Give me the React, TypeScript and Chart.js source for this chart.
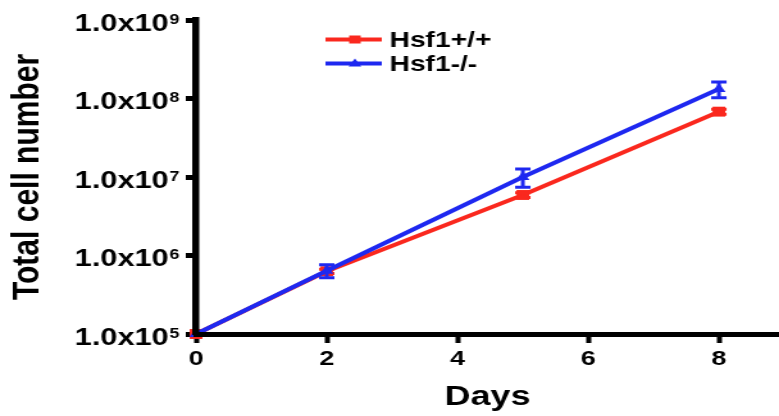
import React, { useEffect, useRef } from 'react';
import { Chart, registerables } from 'chart.js';

Chart.register(...registerables);

// ---- data ----
const days = [0, 2, 5, 8];
const wtCells = [1e5, 6.3e5, 5.9e6, 6.8e7];
const wtErr = [0, 4e4, 4e5, 5e6];
const koCells = [1e5, 6.4e5, 1.0e7, 1.32e8];
const koErr = [0, 1.2e5, 2.6e6, 3.0e7];
const seriesLabels = ['Hsf1+/+', 'Hsf1-/-'];
const xTicks = [0, 2, 4, 6, 8];
const yTicks = [1e5, 1e6, 1e7, 1e8, 1e9];
const xTitle = 'Days';
const yTitle = 'Total cell number';

const RED = 'rgb(250,40,30)';
const BLUE = 'rgb(30,40,240)';
const FONT = '"Liberation Sans", Arial, Helvetica, sans-serif';

// internal canvas is narrower and stretched horizontally to 779 px
const CW = 608;
const CH = 416;

const errorBarPlugin = {
  id: 'errorBars',
  afterDatasetDraw(chart: any, args: any) {
    const ds = chart.data.datasets[args.index];
    const errs: number[] = ds.errors || [];
    const y = chart.scales.y;
    const ctx = chart.ctx;
    ctx.save();
    ctx.strokeStyle = ds.borderColor;
    ctx.lineWidth = 3;
    args.meta.data.forEach((pt: any, i: number) => {
      const e = errs[i];
      if (!e) return;
      const v = ds.data[i].y;
      const yt = y.getPixelForValue(v + e);
      const yb = y.getPixelForValue(v - e);
      const x = pt.x;
      ctx.beginPath();
      ctx.moveTo(x, yt);
      ctx.lineTo(x, yb);
      ctx.moveTo(x - 6, yt);
      ctx.lineTo(x + 6, yt);
      ctx.moveTo(x - 6, yb);
      ctx.lineTo(x + 6, yb);
      ctx.stroke();
    });
    ctx.restore();
  },
};

const yLabelPlugin = {
  id: 'yLabels',
  afterDraw(chart: any) {
    const s = chart.scales.y;
    const ctx = chart.ctx;
    ctx.save();
    ctx.fillStyle = '#000';
    ctx.textAlign = 'right';
    ctx.textBaseline = 'alphabetic';
    const right = s.right - 13;
    s.ticks.forEach((t: any) => {
      const py = s.getPixelForValue(t.value);
      const e = Math.round(Math.log10(t.value));
      const mant = (t.value / Math.pow(10, e)).toFixed(1) + 'x10';
      const exp = String(e);
      ctx.font = `bold 14px ${FONT}`;
      ctx.fillText(exp, right, py + 3.5);
      const ew = ctx.measureText(exp).width;
      ctx.font = `bold 24px ${FONT}`;
      ctx.fillText(mant, right - ew - 0.5, py + 10.5);
    });
    ctx.restore();
  },
};

const legendPlugin = {
  id: 'customLegend',
  afterDraw(chart: any) {
    const ctx = chart.ctx;
    const rows = [39.5, 63.5];
    const x0 = 254;
    const x1 = 298;
    const mx = 277;
    const tx = 304;
    ctx.save();
    chart.data.datasets.forEach((ds: any, i: number) => {
      const ry = rows[i];
      ctx.strokeStyle = ds.borderColor;
      ctx.fillStyle = ds.borderColor;
      ctx.lineWidth = 4;
      ctx.beginPath();
      ctx.moveTo(x0, ry);
      ctx.lineTo(x1, ry);
      ctx.stroke();
      if (ds.pointStyle === 'rect') {
        ctx.fillRect(mx - 4.5, ry - 4, 9, 8);
      } else {
        ctx.beginPath();
        ctx.moveTo(mx, ry - 5);
        ctx.lineTo(mx + 5, ry + 3);
        ctx.lineTo(mx - 5, ry + 3);
        ctx.closePath();
        ctx.fill();
      }
      ctx.fillStyle = '#000';
      ctx.font = `bold 22px ${FONT}`;
      ctx.textAlign = 'left';
      ctx.textBaseline = 'middle';
      ctx.fillText(ds.label, tx, ry + 1);
    });
    ctx.restore();
  },
};

export default function App() {
  const ref = useRef<HTMLCanvasElement | null>(null);

  useEffect(() => {
    if (!ref.current) return;
    const chart = new Chart(ref.current, {
      type: 'line',
      data: {
        datasets: [
          {
            label: seriesLabels[0],
            data: days.map((d, i) => ({ x: d, y: wtCells[i] })),
            borderColor: RED,
            backgroundColor: RED,
            pointBackgroundColor: RED,
            pointBorderColor: RED,
            borderWidth: 4,
            pointStyle: 'rect',
            pointRadius: 7,
            pointBorderWidth: 0,
            tension: 0,
            clip: false,
            order: 1,
            errors: wtErr,
          } as any,
          {
            label: seriesLabels[1],
            data: days.map((d, i) => ({ x: d, y: koCells[i] })),
            borderColor: BLUE,
            backgroundColor: BLUE,
            pointBackgroundColor: BLUE,
            pointBorderColor: BLUE,
            borderWidth: 4,
            pointStyle: 'triangle',
            pointRadius: 6,
            pointBorderWidth: 0,
            tension: 0,
            clip: false,
            order: 0,
            errors: koErr,
          } as any,
        ],
      },
      options: {
        responsive: false,
        animation: false,
        devicePixelRatio: 1,
        layout: { autoPadding: false, padding: { top: 20, right: 0, bottom: 0, left: 0 } },
        plugins: {
          legend: { display: false },
          tooltip: { enabled: false },
        },
        scales: {
          x: {
            type: 'linear',
            min: 0,
            max: 8.92,
            afterBuildTicks: (s: any) => {
              s.ticks = xTicks.map((v) => ({ value: v }));
            },
            afterFit: (s: any) => {
              s.height = 82;
            },
            grid: {
              drawOnChartArea: false,
              drawTicks: true,
              tickLength: 9,
              tickWidth: 4,
              tickColor: '#000',
            },
            border: { display: true, color: '#000', width: 5, z: 1 },
            ticks: {
              color: '#000',
              font: { family: FONT, size: 21, weight: 'bold' },
              padding: 4,
              maxRotation: 0,
              autoSkip: false,
            },
            title: {
              display: true,
              text: xTitle,
              color: '#000',
              font: { family: FONT, size: 28, weight: 'bold', lineHeight: 1.2 },
              padding: { top: 0, bottom: 2 },
            },
          },
          y: {
            type: 'logarithmic',
            min: 1e5,
            max: 1e9,
            afterBuildTicks: (s: any) => {
              s.ticks = yTicks.map((v) => ({ value: v }));
            },
            afterFit: (s: any) => {
              s.width = 153;
            },
            grid: {
              drawOnChartArea: false,
              drawTicks: true,
              tickLength: 8,
              tickWidth: 5,
              tickColor: '#000',
            },
            border: { display: true, color: '#000', width: 5.5, z: 1 },
            ticks: { display: false },
            title: {
              display: true,
              text: yTitle,
              color: '#000',
              font: { family: FONT, size: 30, weight: 'bold', lineHeight: 1.2 },
              padding: { top: 4, bottom: 0 },
            },
          },
        },
      } as any,
      plugins: [errorBarPlugin, yLabelPlugin, legendPlugin],
    });
    return () => chart.destroy();
  }, []);

  return (
    <div
      style={{
        position: 'absolute',
        left: 0,
        top: 0,
        width: 779,
        height: 416,
        background: '#fff',
      }}
    >
      <canvas
        ref={ref}
        width={CW}
        height={CH}
        style={{ width: '779px', height: '416px', display: 'block' }}
      />
    </div>
  );
}
